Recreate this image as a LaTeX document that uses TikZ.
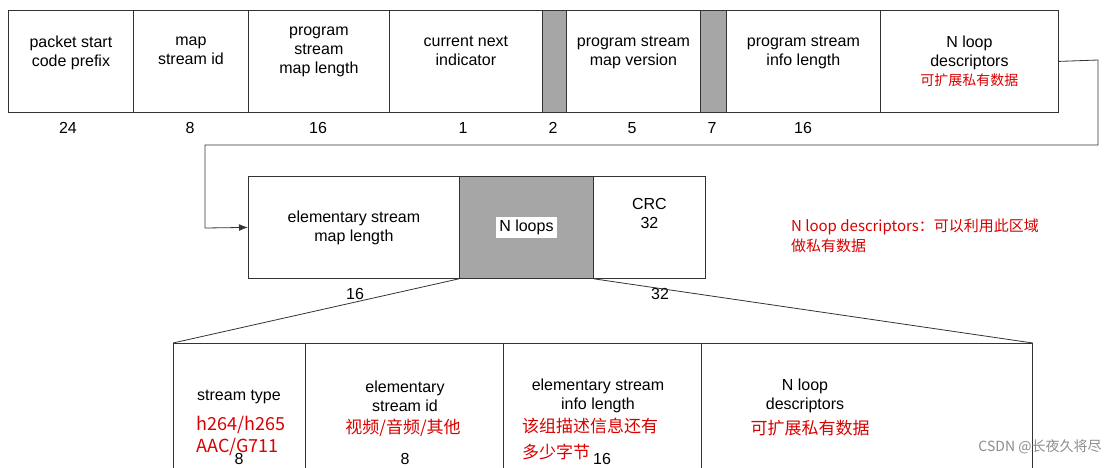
\documentclass[tikz,border=0pt]{standalone}
\usepackage{fontspec}
\setmainfont{Liberation Sans}
\newfontfamily\cjk{Noto Sans CJK SC}
\usetikzlibrary{positioning,arrows.meta}
\begin{document}
\begin{tikzpicture}[x=1pt,y=-1pt,line width=0.8pt,
field/.style={
% The shape:
rectangle,
draw=black!80,
inner sep=0pt,
anchor=north west,
align=center,
font=\fontsize{16}{19}\selectfont
},
shade/.style={field,fill=black!35},
bits/.style={align=center,font=\fontsize{16}{19}\selectfont},
note/.style={text=red!85!black,font=\cjk\fontsize{15}{20}\selectfont,align=left}
]
\useasboundingbox (0,0) rectangle (1117,467);
% First row:
\node (psc) [field,minimum width=125,minimum height=102] at (8,10) {packet start\\code prefix\\[2pt]};
\node (msid) [field,minimum width=115,minimum height=102] at (133,10) {map\\stream id\\[2pt]};
\node (pml) [field,minimum width=141,minimum height=102] at (248,10) {program\\stream\\map length\\[4pt]};
\node (cni) [field,minimum width=153,minimum height=102] at (389,10) {current next\\indicator\\[2pt]};
\node (res1) [shade,minimum width=24,minimum height=102] at (542,10) {};
\node (pmv) [field,minimum width=134,minimum height=102] at (566,10) {program stream\\map version\\[2pt]};
\node (res2) [shade,minimum width=26,minimum height=102] at (700,10) {};
\node (pil) [field,minimum width=154,minimum height=102] at (726,10) {program stream\\info length\\[2pt]};
\node (desc) [field,minimum width=178,minimum height=102] at (880,10) {N loop\\descriptors\\{\cjk\color{red!85!black}\fontsize{14}{18}\selectfont 可扩展私有数据}};
\foreach \x/\n in {68/24,190/8,318/16,463/1,553/2,632/5,712/7,803/16}
  \node[bits] at (\x,128) {\n};
% Second row:
\node (esml) [field,minimum width=211,minimum height=102] at (248,176) {elementary stream\\map length};
\node (nloops) [shade,minimum width=134,minimum height=102] at (459,176) {};
\node[fill=white,inner sep=3pt,font=\fontsize{16}{19}\selectfont] at (nloops.center) {N loops};
\node (crc) [field,minimum width=112,minimum height=102] at (593,176) {CRC\\32\\[8pt]};
\node[bits] at (355,294) {16};
\node[bits] at (660,294) {32};
\node[note] at (915,236) {N loop descriptors：可以利用此区域\\做私有数据};
\coordinate (turn1) at (1098,60);
\coordinate (turn2) at (1098,145);
\coordinate (turn3) at (205,145);
\coordinate (turn4) at (205,228);
\draw[black!80] (desc.east) -- (turn1) -- (turn2) -- (turn3) -- (turn4);
\draw[-{Latex[length=9pt]},black!80] (turn4) -- (esml.west);
% Third row:
\node (stype) [field,minimum width=132,minimum height=130] at (173,343) {};
\node (esid) [field,minimum width=198,minimum height=130] at (305,343) {};
\node (eil) [field,minimum width=198,minimum height=130] at (503,343) {};
\node (desc2) [field,minimum width=331,minimum height=130] at (701,343) {};
\draw[black!80] (nloops.south west) -- (stype.north west);
\draw[black!80] (nloops.south east) -- (desc2.north east);
\node[bits] at (239,397) {stream type};
\node[bits] at (405,396) {elementary\\stream id};
\node[bits] at (598,396) {elementary stream\\info length};
\node[bits] at (805,396) {N loop\\descriptors};
\node[note,font=\cjk\fontsize{18}{22}\selectfont] at (241,436) {h264/h265\\AAC/G711};
\node[note,font=\cjk\fontsize{17}{20}\selectfont] at (403,428) {视频/音频/其他};
\node[note,font=\cjk\fontsize{17}{26}\selectfont] at (590,439) {该组描述信息还有\\多少字节};
\node[note,font=\cjk\fontsize{17}{20}\selectfont] at (810,428) {可扩展私有数据};
\foreach \x/\n in {239/8,405/8,602/16}
  \node[bits] at (\x,459) {\n};
\node[text=black!45,font=\cjk\fontsize{14}{16}\selectfont] at (1040,447) {CSDN @长夜久将尽};
\end{tikzpicture}
\end{document}
